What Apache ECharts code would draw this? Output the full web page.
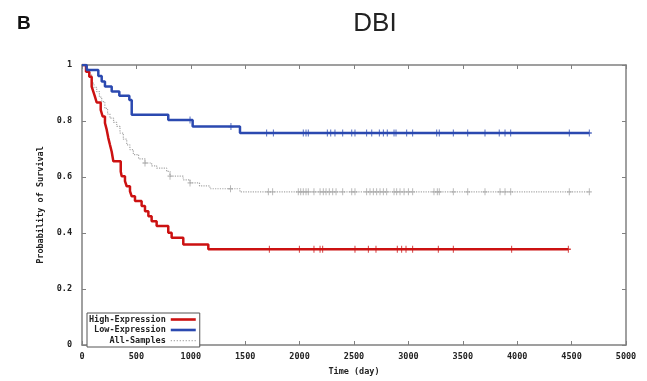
<!DOCTYPE html>
<html><head><meta charset="utf-8">
<script src="https://cdn.jsdelivr.net/npm/echarts@6/dist/echarts.min.js"></script>
<style>html,body{margin:0;padding:0;background:#fff}#c{width:647px;height:381px}</style>
</head><body><div id="c"></div>
<script>
// Kaplan-Meier step data
const highTimes = [0,37,67,89,104,119,135,172,190,211,227,242,257,273,288,356,365,395,411,441,457,487,548,579,610,640,686,793,824,931,1161];
const highSurv  = [1,0.976,0.958,0.923,0.905,0.887,0.866,0.840,0.816,0.793,0.769,0.739,0.715,0.690,0.656,0.620,0.603,0.585,0.567,0.549,0.531,0.514,0.496,0.478,0.460,0.442,0.425,0.401,0.383,0.359,0.342];
const highEnd = 4470;
const highCensor = [1722,1998,2132,2188,2212,2509,2632,2702,2898,2938,2978,3039,3275,3413,3949,4470];

const lowTimes = [0,43,150,181,211,273,343,435,457,793,1017,1452];
const lowSurv  = [1,0.982,0.961,0.941,0.923,0.905,0.890,0.875,0.822,0.804,0.780,0.757];
const lowEnd = 4663;
const lowCensor = [993,1369,1697,1759,2034,2059,2080,2255,2286,2325,2396,2479,2509,2616,2663,2733,2770,2806,2868,2886,2984,3039,3260,3284,3413,3545,3704,3835,3888,3940,4479,4663];

const allTimes = [0,40,70,89,110,135,160,181,210,235,257,290,319,349,380,411,440,472,520,579,640,686,778,809,930,993,1080,1176,1452];
const allSurv  = [1,0.985,0.965,0.935,0.920,0.905,0.885,0.869,0.845,0.825,0.810,0.795,0.781,0.757,0.735,0.715,0.698,0.680,0.665,0.650,0.640,0.632,0.620,0.603,0.590,0.579,0.568,0.558,0.547];
const allEnd = 4663;
const allCensor = [579,809,993,1365,1713,1752,1988,2010,2034,2059,2080,2132,2188,2218,2243,2273,2304,2335,2396,2479,2509,2616,2647,2678,2708,2739,2770,2800,2868,2892,2923,2960,3000,3039,3235,3266,3284,3413,3545,3704,3842,3888,3940,4479,4663];

const seriesNames = ['High-Expression','Low-Expression','All-Samples'];
const xTicks = {min:0, max:5000, interval:500};
const yTicks = {min:0, max:1, interval:0.2};

function stepData(times, surv, endT){
  const d = times.map((t,i)=>[t,surv[i]]);
  d.push([endT, surv[surv.length-1]]);
  return d;
}
function survAt(times, surv, t){
  let v = surv[0];
  for (let i=0;i<times.length;i++){ if (times[i] <= t) v = surv[i]; }
  return v;
}
function censorData(times, surv, cens){ return cens.map(t=>[t, survAt(times, surv, t)]); }

const RED='#cc1111', BLUE='#2b49b0', GRAY='#a8a8a8';
const PLUS='path://M4,0H6V4H10V6H6V10H4V6H0V4H4Z';
const LINE_ICON='path://M0,0H25V2.6H0Z';
let dots='path://';
for (let i=0;i<=24;i+=3){ dots += 'M'+i+',0.8h1.2v1.2h-1.2z'; }
dots += 'M0,0h0.01v2.6h-0.01z';
const monoFont = 'DejaVu Sans Mono';

const chart = echarts.init(document.getElementById('c'), null, {renderer:'canvas'});
const axisLineStyle = {color:'#808080', width:1.5};
const legendIcons = [LINE_ICON, LINE_ICON, dots];
const legendColors = [RED, BLUE, GRAY];
chart.setOption({
  animation:false,
  backgroundColor:'#fff',
  title:[
    {text:'DBI', left:370, top:6, textAlign:'center', textStyle:{fontFamily:'Liberation Sans', fontWeight:'normal', fontSize:26, color:'#222'}},
    {text:'B', left:12, top:9, textStyle:{fontFamily:'Liberation Sans', fontWeight:'bold', fontSize:19, color:'#111'}}
  ],
  grid:{left:82, right:21, top:65, bottom:35},
  legend:{
    data:seriesNames.map((n,i)=>({name:n, icon:legendIcons[i], itemStyle:{color:legendColors[i]}})),
    orient:'vertical', left:87, top:313, align:'right',
    itemWidth:25, itemHeight:2.6, itemGap:1.5, padding:[2,4,2,2],
    borderColor:'#555', borderWidth:1, backgroundColor:'#fff',
    formatter: n => '{a|'+n+'}',
    textStyle:{fontFamily:monoFont, fontWeight:'bold', fontSize:8.5, color:'#222',
      rich:{a:{width:80, align:'right', fontFamily:monoFont, fontWeight:'bold', fontSize:8.5, color:'#222'}}}
  },
  xAxis:[
    {type:'value', ...xTicks, position:'bottom',
     name:'Time (day)', nameLocation:'middle', nameGap:22,
     nameTextStyle:{fontFamily:monoFont, fontWeight:'bold', fontSize:8.5, color:'#222'},
     axisLine:{onZero:false, lineStyle:axisLineStyle},
     axisTick:{inside:true, length:4, lineStyle:{color:'#808080'}},
     axisLabel:{margin:7, fontFamily:monoFont, fontWeight:'bold', fontSize:8.5, color:'#222', formatter:v=>String(v)},
     splitLine:{show:false}},
    {type:'value', ...xTicks, position:'top',
     axisLine:{onZero:false, lineStyle:axisLineStyle},
     axisTick:{inside:true, length:4, lineStyle:{color:'#808080'}},
     axisLabel:{show:false}, splitLine:{show:false}}
  ],
  yAxis:[
    {type:'value', ...yTicks, position:'left',
     name:'Probability of Survival', nameLocation:'middle', nameGap:36, nameRotate:90,
     nameTextStyle:{fontFamily:monoFont, fontWeight:'bold', fontSize:8.5, color:'#222'},
     axisLine:{show:true, onZero:false, lineStyle:axisLineStyle},
     axisTick:{show:true, inside:true, length:4, lineStyle:{color:'#808080'}},
     axisLabel:{margin:10, fontFamily:monoFont, fontWeight:'bold', fontSize:8.5, color:'#222',
       formatter:v => (v===0?'0':(v===1?'1':v.toFixed(1)))},
     splitLine:{show:false}},
    {type:'value', ...yTicks, position:'right',
     axisLine:{show:true, onZero:false, lineStyle:axisLineStyle},
     axisTick:{show:true, inside:true, length:4, lineStyle:{color:'#808080'}},
     axisLabel:{show:false}, splitLine:{show:false}}
  ],
  series:[
    {name:'All-Samples', type:'line', step:'end', symbol:'none', z:2,
     data:stepData(allTimes, allSurv, allEnd),
     itemStyle:{color:GRAY}, lineStyle:{color:GRAY, width:1.2, type:'dotted'}},
    {name:'All-Samples-censor', type:'scatter', symbol:PLUS, symbolSize:[5,7], z:2,
     data:censorData(allTimes, allSurv, allCensor), itemStyle:{color:GRAY}},
    {name:'High-Expression', type:'line', step:'end', symbol:'none', z:3,
     data:stepData(highTimes, highSurv, highEnd),
     itemStyle:{color:RED}, lineStyle:{color:RED, width:2.5}},
    {name:'High-Expression-censor', type:'scatter', symbol:PLUS, symbolSize:[5,7], z:3,
     data:censorData(highTimes, highSurv, highCensor), itemStyle:{color:RED}},
    {name:'Low-Expression', type:'line', step:'end', symbol:'none', z:3,
     data:stepData(lowTimes, lowSurv, lowEnd),
     itemStyle:{color:BLUE}, lineStyle:{color:BLUE, width:2.5}},
    {name:'Low-Expression-censor', type:'scatter', symbol:PLUS, symbolSize:[5,7], z:3,
     data:censorData(lowTimes, lowSurv, lowCensor), itemStyle:{color:BLUE}}
  ]
});
</script></body></html>
